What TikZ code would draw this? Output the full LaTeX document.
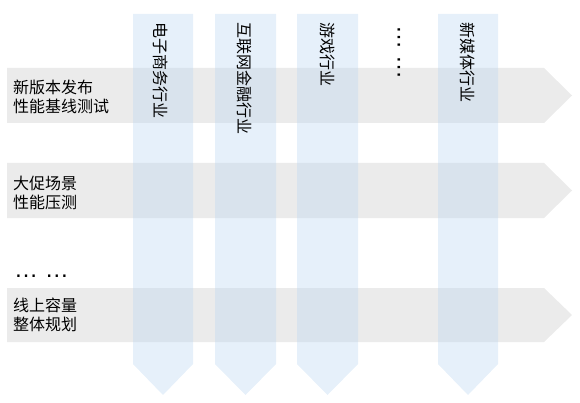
\documentclass[tikz,border=0pt]{standalone}
\usepackage{fontspec}
\setmainfont{Noto Sans CJK SC}
\newfontfamily\dotfont{Liberation Sans}
\definecolor{bandgray}{RGB}{235,235,235}
\definecolor{colblue}{RGB}{192,217,242}
\tikzset{
  band/.style={fill=bandgray},
  column/.style={fill=colblue,fill opacity=0.4},
  rowtext/.style={anchor=west,align=left,inner sep=0pt,font=\fontsize{16}{19}\selectfont},
  coltext/.style={anchor=west,rotate=-90,inner sep=0pt,font=\fontsize{16}{19}\selectfont},
  dottext/.style={anchor=west,inner sep=0pt,font=\dotfont\fontsize{24}{24}\selectfont},
}
\begin{document}
\begin{tikzpicture}[x=1pt,y=1pt]
        \useasboundingbox (0,0) rectangle (580,402);
        % 横向场景
        \foreach \t/\b in {334/279,239/184,114/60}
          \fill[band] (7,\t) -- (544,\t) -- (572,{(\t+\b)/2}) -- (544,\b) -- (7,\b) -- cycle;
        % 纵向行业
        \foreach \l/\r in {133/193,215/276,297/358,438/498}
          \fill[column] (\l,388) -- (\r,388) -- (\r,38) -- ({(\l+\r)/2},7) -- (\l,38) -- cycle;
        \node[rowtext] (release) at (13,305.5) {新版本发布\\性能基线测试};
        \node[rowtext] (promo) at (13,209.5) {大促场景\\性能压测};
        \node[rowtext] (online) at (13,87) {线上容量\\整体规划};
        \node[dottext] (rowmore) at (14,126) {… …};
        \node[coltext] (ecom) at (161,380) {电子商务行业};
        \node[coltext] (finance) at (245,380) {互联网金融行业};
        \node[coltext] (game) at (327.5,380) {游戏行业};
        \node[dottext,rotate=-90] (colmore) at (399,377) {… …};
        \node[coltext] (media) at (468,380) {新媒体行业};
        \end{tikzpicture}
\end{document}
